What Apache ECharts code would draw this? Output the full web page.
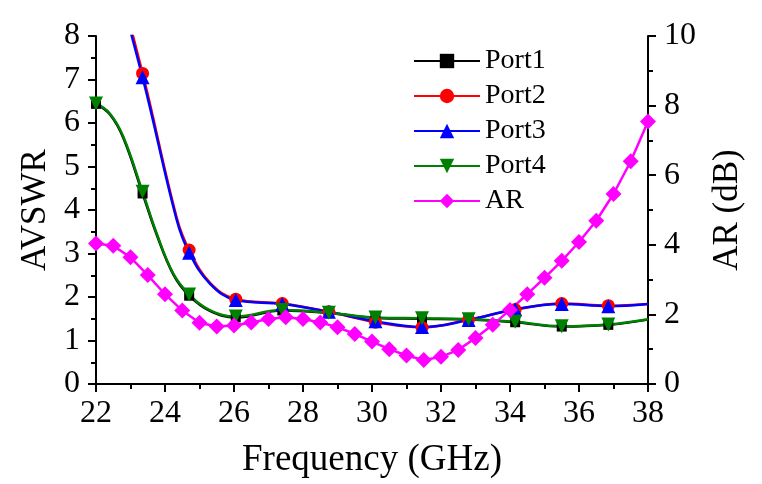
<!DOCTYPE html>
<html>
<head>
<meta charset="utf-8">
<script src="https://cdn.jsdelivr.net/npm/echarts@6/dist/echarts.min.js"></script>
<style>
  html, body { margin: 0; padding: 0; background: #fff; }
  #chart { width: 762px; height: 484px; }
</style>
</head>
<body>
<div id="chart"></div>
<script>
// frequencies where the port markers sit (GHz)
const markFreq = [22, 23.35, 24.7, 26.05, 27.4, 28.75, 30.1, 31.45, 32.8, 34.15, 35.5, 36.85]

// AVSWR read at the marker positions
const port1 = [6.44, 4.38, 2.03, 1.53, 1.69, 1.63, 1.52, 1.50, 1.48, 1.42, 1.32, 1.36]
const port2 = [11.2, 7.14, 3.08, 1.95, 1.85, 1.66, 1.42, 1.30, 1.48, 1.71, 1.85, 1.80]
const port3 = [11.0, 7.05, 3.02, 1.93, 1.84, 1.66, 1.44, 1.31, 1.47, 1.72, 1.84, 1.79]
const port4 = [6.45, 4.42, 2.06, 1.55, 1.70, 1.64, 1.53, 1.51, 1.49, 1.43, 1.33, 1.37]

// extra curve points (no marker) read between markers
const port1Extra = [[22.4, 6.20], [22.79, 5.66], [23.76, 3.43], [24.24, 2.52], [25.3, 1.68], [38, 1.48]]
const port2Extra = [[24.34, 3.82], [25.3, 2.33], [38, 1.84]]
const port3Extra = [[24.34, 3.77], [25.3, 2.31], [38, 1.84]]
const port4Extra = [[22.4, 6.22], [22.79, 5.69], [23.76, 3.46], [24.24, 2.54], [25.3, 1.70], [38, 1.49]]

// axial ratio (dB), every 0.5 GHz from 22 to 38
const arFreq = []
for (let f = 22; f <= 38.001; f += 0.5) arFreq.push(Math.round(f * 10) / 10)
const arValues = [4.04, 3.97, 3.64, 3.13, 2.58, 2.11, 1.76, 1.65, 1.68, 1.77, 1.87, 1.92, 1.87, 1.77, 1.63, 1.44,
  1.22, 1.00, 0.82, 0.69, 0.78, 0.98, 1.32, 1.70, 2.13, 2.58, 3.05, 3.54, 4.08, 4.69, 5.46, 6.40, 7.54]

function buildData (values, extras) {
  const pts = markFreq.map((f, i) => ({ value: [f, values[i]] }))
  extras.forEach(p => pts.push({ value: p, symbol: 'none' }))
  pts.sort((a, b) => a.value[0] - b.value[0])
  return pts
}

const fontFamily = '"Liberation Serif", "Times New Roman", serif'
const lineSeries = (name, color, symbol, size, data) => ({
  name,
  type: 'line',
  smooth: 0.4,
  symbol,
  symbolSize: size,
  showAllSymbol: true,
  data,
  itemStyle: { color },
  lineStyle: { color, width: 2.5 },
  emphasis: { disabled: true }
})

const chart = echarts.init(document.getElementById('chart'))
chart.setOption({
  animation: false,
  textStyle: { fontFamily },
  grid: { left: 96, right: 114, top: 36, bottom: 100 },
  legend: {
    orient: 'vertical',
    left: 408,
    top: 42,
    itemWidth: 66,
    itemHeight: 18,
    itemGap: 7,
    textStyle: { fontFamily, fontSize: 28, lineHeight: 28, color: '#000' },
    data: ['Port1', 'Port2', 'Port3', 'Port4', 'AR']
  },
  xAxis: [{
    type: 'value',
    min: 22,
    max: 38,
    interval: 2,
    name: 'Frequency (GHz)',
    nameLocation: 'middle',
    nameGap: 58,
    nameTextStyle: { fontFamily, fontSize: 37, color: '#000' },
    axisLine: { lineStyle: { color: '#000', width: 2 } },
    axisTick: { inside: false, length: 8, lineStyle: { width: 2 } },
    minorTick: { show: true, splitNumber: 2, length: 5, lineStyle: { color: '#000', width: 2 } },
    axisLabel: { fontFamily, fontSize: 32, color: '#000', margin: 14 },
    splitLine: { show: false }
  }, {
    type: 'value',
    min: 22,
    max: 38,
    position: 'top',
    axisLine: { lineStyle: { color: '#000', width: 2 } },
    axisTick: { show: false },
    axisLabel: { show: false },
    splitLine: { show: false }
  }],
  yAxis: [{
    type: 'value',
    min: 0,
    max: 8,
    interval: 1,
    name: 'AVSWR',
    nameLocation: 'middle',
    nameGap: 40,
    nameTextStyle: { fontFamily, fontSize: 35, color: '#000' },
    axisLine: { show: true, lineStyle: { color: '#000', width: 2 } },
    axisTick: { inside: false, length: 8, lineStyle: { width: 2 } },
    minorTick: { show: true, splitNumber: 2, length: 5, lineStyle: { color: '#000', width: 2 } },
    axisLabel: { fontFamily, fontSize: 32, color: '#000', margin: 16 },
    splitLine: { show: false }
  }, {
    type: 'value',
    min: 0,
    max: 10,
    interval: 2,
    position: 'right',
    name: 'AR (dB)',
    nameLocation: 'middle',
    nameGap: 62,
    nameRotate: 90,
    nameTextStyle: { fontFamily, fontSize: 35, color: '#000' },
    axisLine: { show: true, lineStyle: { color: '#000', width: 2 } },
    axisTick: { inside: false, length: 8, lineStyle: { width: 2 } },
    minorTick: { show: true, splitNumber: 2, length: 5, lineStyle: { color: '#000', width: 2 } },
    axisLabel: { fontFamily, fontSize: 32, color: '#000', margin: 16 },
    splitLine: { show: false }
  }],
  series: [
    lineSeries('Port1', '#000000', 'rect', 10, buildData(port1, port1Extra)),
    lineSeries('Port2', '#ff0000', 'circle', 13, buildData(port2, port2Extra)),
    lineSeries('Port3', '#0000ff', 'triangle', 14, buildData(port3, port3Extra)),
    Object.assign(lineSeries('Port4', '#008000', 'triangle', 14, buildData(port4, port4Extra)), { symbolRotate: 180 }),
    {
      name: 'AR',
      type: 'line',
      yAxisIndex: 1,
      symbol: 'diamond',
      symbolSize: 16,
      showAllSymbol: true,
      data: arFreq.map((f, i) => [f, arValues[i]]),
      itemStyle: { color: '#ff00ff' },
      lineStyle: { color: '#ff00ff', width: 2.5 },
      emphasis: { disabled: true }
    }
  ]
})
</script>
</body>
</html>
